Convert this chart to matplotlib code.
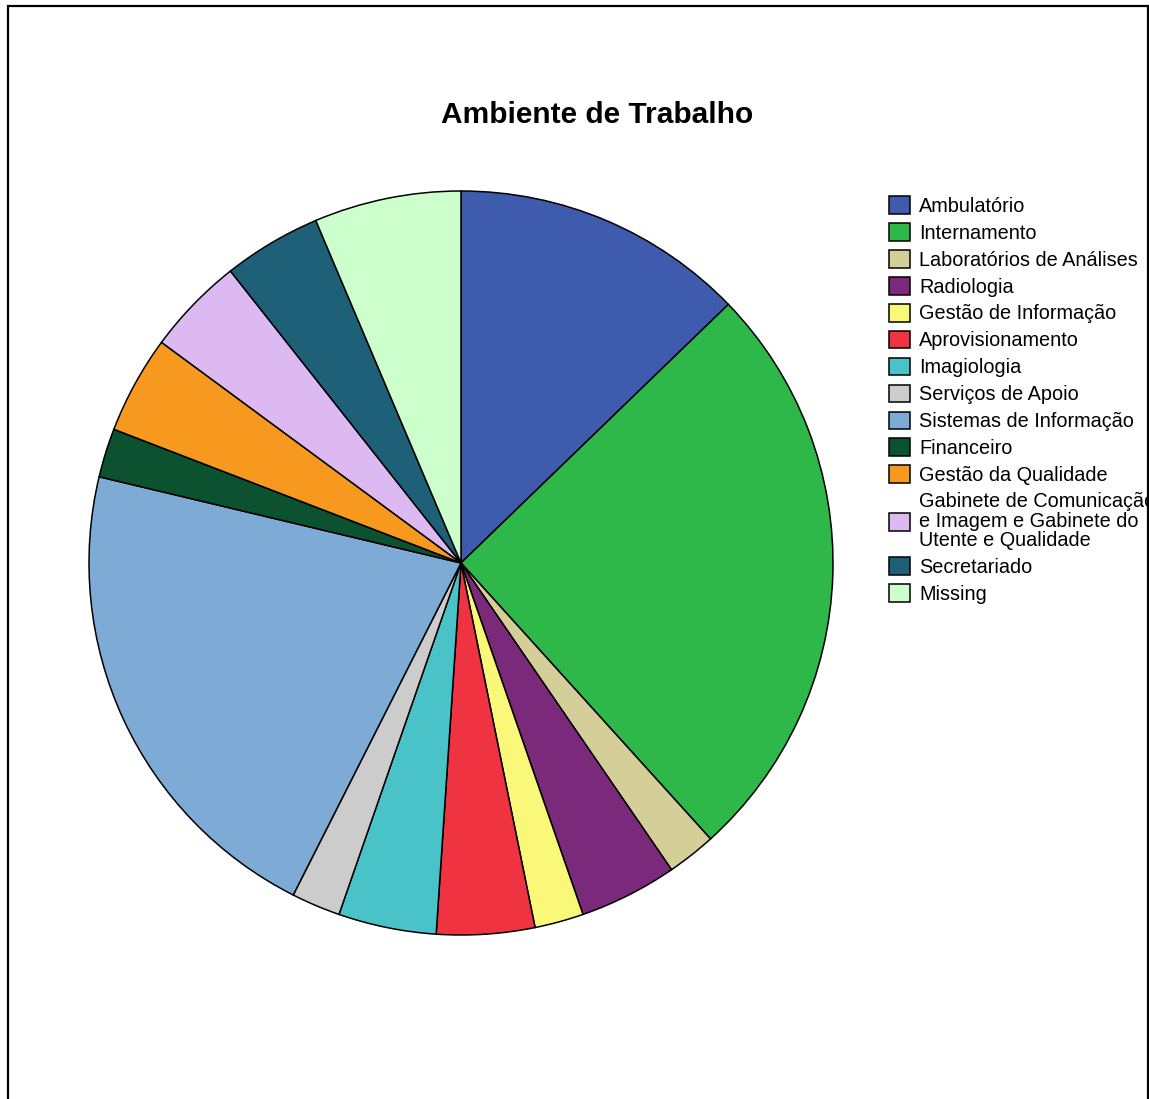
import matplotlib
matplotlib.use("Agg")
import matplotlib.pyplot as plt
from matplotlib.patches import Patch, Rectangle

# data
labels = [
    "Ambulatório",
    "Internamento",
    "Laboratórios de Análises",
    "Radiologia",
    "Gestão de Informação",
    "Aprovisionamento",
    "Imagiologia",
    "Serviços de Apoio",
    "Sistemas de Informação",
    "Financeiro",
    "Gestão da Qualidade",
    "Gabinete de Comunicação\ne Imagem e Gabinete do\nUtente e Qualidade",
    "Secretariado",
    "Missing",
]
counts = [6, 12, 1, 2, 1, 2, 2, 1, 10, 1, 2, 2, 2, 3]
colors = [
    "#3F5BAD", "#2FB84A", "#D4CF99", "#7B2A7B", "#FAF878", "#EF3340", "#4AC3C8",
    "#CCCCCC", "#7EABD6", "#0C5230", "#F7991F", "#DDB9F1", "#1D6078", "#CCFFCC",
]

W, H = 1149, 1099
fig = plt.figure(figsize=(W / 100, H / 100), dpi=100)
plt.rcParams["font.family"] = ["Liberation Sans", "DejaVu Sans"]

# pie axes placed in pixel terms: centre (461, 563), radius 372
cx, cy, r = 461, 563, 372
ax = fig.add_axes([(cx - r) / W, (H - cy - r) / H, 2 * r / W, 2 * r / H])
ax.pie(counts, colors=colors, startangle=90, counterclock=False,
       wedgeprops=dict(edgecolor="black", linewidth=1.1))
ax.set_xlim(-1, 1)
ax.set_ylim(-1, 1)
ax.set_aspect("equal")
ax.axis("off")

fig.text(597 / W, 1 - 115 / H, "Ambiente de Trabalho", ha="center", va="center",
         fontsize=21.5, fontweight="bold")

fs = 14.3
handles = [Patch(facecolor=c, edgecolor="black", linewidth=1.1) for c in colors]
leg = fig.legend(handles, labels, loc="upper left",
                 bbox_to_anchor=(889 / W, 1 - 196 / H), frameon=False,
                 fontsize=fs, borderpad=0, borderaxespad=0,
                 handlelength=1.08, handleheight=1.0, handletextpad=0.45,
                 labelspacing=0.365)
for t in leg.get_texts():
    t.set_linespacing(1.03)

# outer frame
fig.patches.append(Rectangle((8 / W, -0.05), (1148 - 8) / W, 1 - 6 / H + 0.05,
                             transform=fig.transFigure, fill=False,
                             edgecolor="black", linewidth=1.6, zorder=10))

fig.savefig("out.png", dpi=100)
